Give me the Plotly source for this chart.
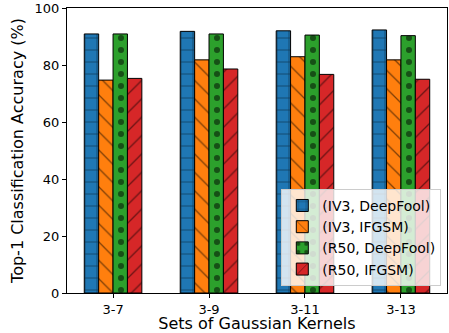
import plotly.graph_objects as go

categories = ["3-7", "3-9", "3-11", "3-13"]
series_names = ["(IV3, DeepFool)", "(IV3, IFGSM)", "(R50, DeepFool)", "(R50, IFGSM)"]
iv3_deepfool = [90.9, 91.8, 92.0, 92.3]
iv3_ifgsm = [74.7, 81.8, 82.9, 81.8]
r50_deepfool = [90.9, 90.9, 90.5, 90.3]
r50_ifgsm = [75.3, 78.6, 76.7, 75.0]
yticks = [0, 20, 40, 60, 80, 100]

series = [iv3_deepfool, iv3_ifgsm, r50_deepfool, r50_ifgsm]
colors = ["#1f77b4", "#ff7f0e", "#2ca02c", "#d62728"]
shapes = ["+", "\\", ".", "/"]
solid = [0.12, 0.1, 0.2, 0.1]
sizes = [12, 13, 12, 13]
width = 0.15
offsets = [-1.5 * width, -0.5 * width, 0.5 * width, 1.5 * width]

fig = go.Figure()
for name, vals, c, s, so, sz, off in zip(series_names, series, colors, shapes, solid, sizes, offsets):
    fig.add_trace(go.Bar(
        x=list(range(len(categories))),
        y=vals,
        name=name,
        width=width,
        offset=off - width / 2,
        marker=dict(
            color=c,
            line=dict(color="black", width=1),
            pattern=dict(shape=s, fgcolor="black", bgcolor=c, size=sz, solidity=so, fillmode="overlay"),
        ),
    ))

fig.update_layout(
    width=449, height=333,
    margin=dict(l=67, r=2, t=8, b=40),
    plot_bgcolor="white", paper_bgcolor="white",
    font=dict(family="DejaVu Sans", size=13, color="black"),
    barmode="overlay",
    showlegend=True,
    legend=dict(
        x=0.985, y=0.025, xanchor="right", yanchor="bottom",
        bgcolor="rgba(255,255,255,0.8)", bordercolor="#cccccc", borderwidth=1,
        font=dict(size=14), tracegroupgap=0,
    ),
    xaxis=dict(
        range=[-0.48, 3.48], automargin=False,
        tickmode="array", tickvals=list(range(len(categories))), ticktext=categories,
        showline=True, linecolor="black", linewidth=1, mirror=True,
        ticks="outside", ticklen=4, tickcolor="black",
        showgrid=False, zeroline=False,
        title=dict(text="Sets of Gaussian Kernels", standoff=7),
    ),
    yaxis=dict(
        range=[0, 100], automargin=False,
        tickmode="array", tickvals=yticks,
        showline=True, linecolor="black", linewidth=1, mirror=True,
        ticks="outside", ticklen=4, tickcolor="black",
        showgrid=False, zeroline=False,
        title=dict(text="Top-1 Classification Accuracy (%)", standoff=6),
    ),
)

fig.write_html(
    "out.html",
    config={"displayModeBar": False},
    post_script="document.body.style.margin='0';document.body.style.overflow='hidden';",
)
